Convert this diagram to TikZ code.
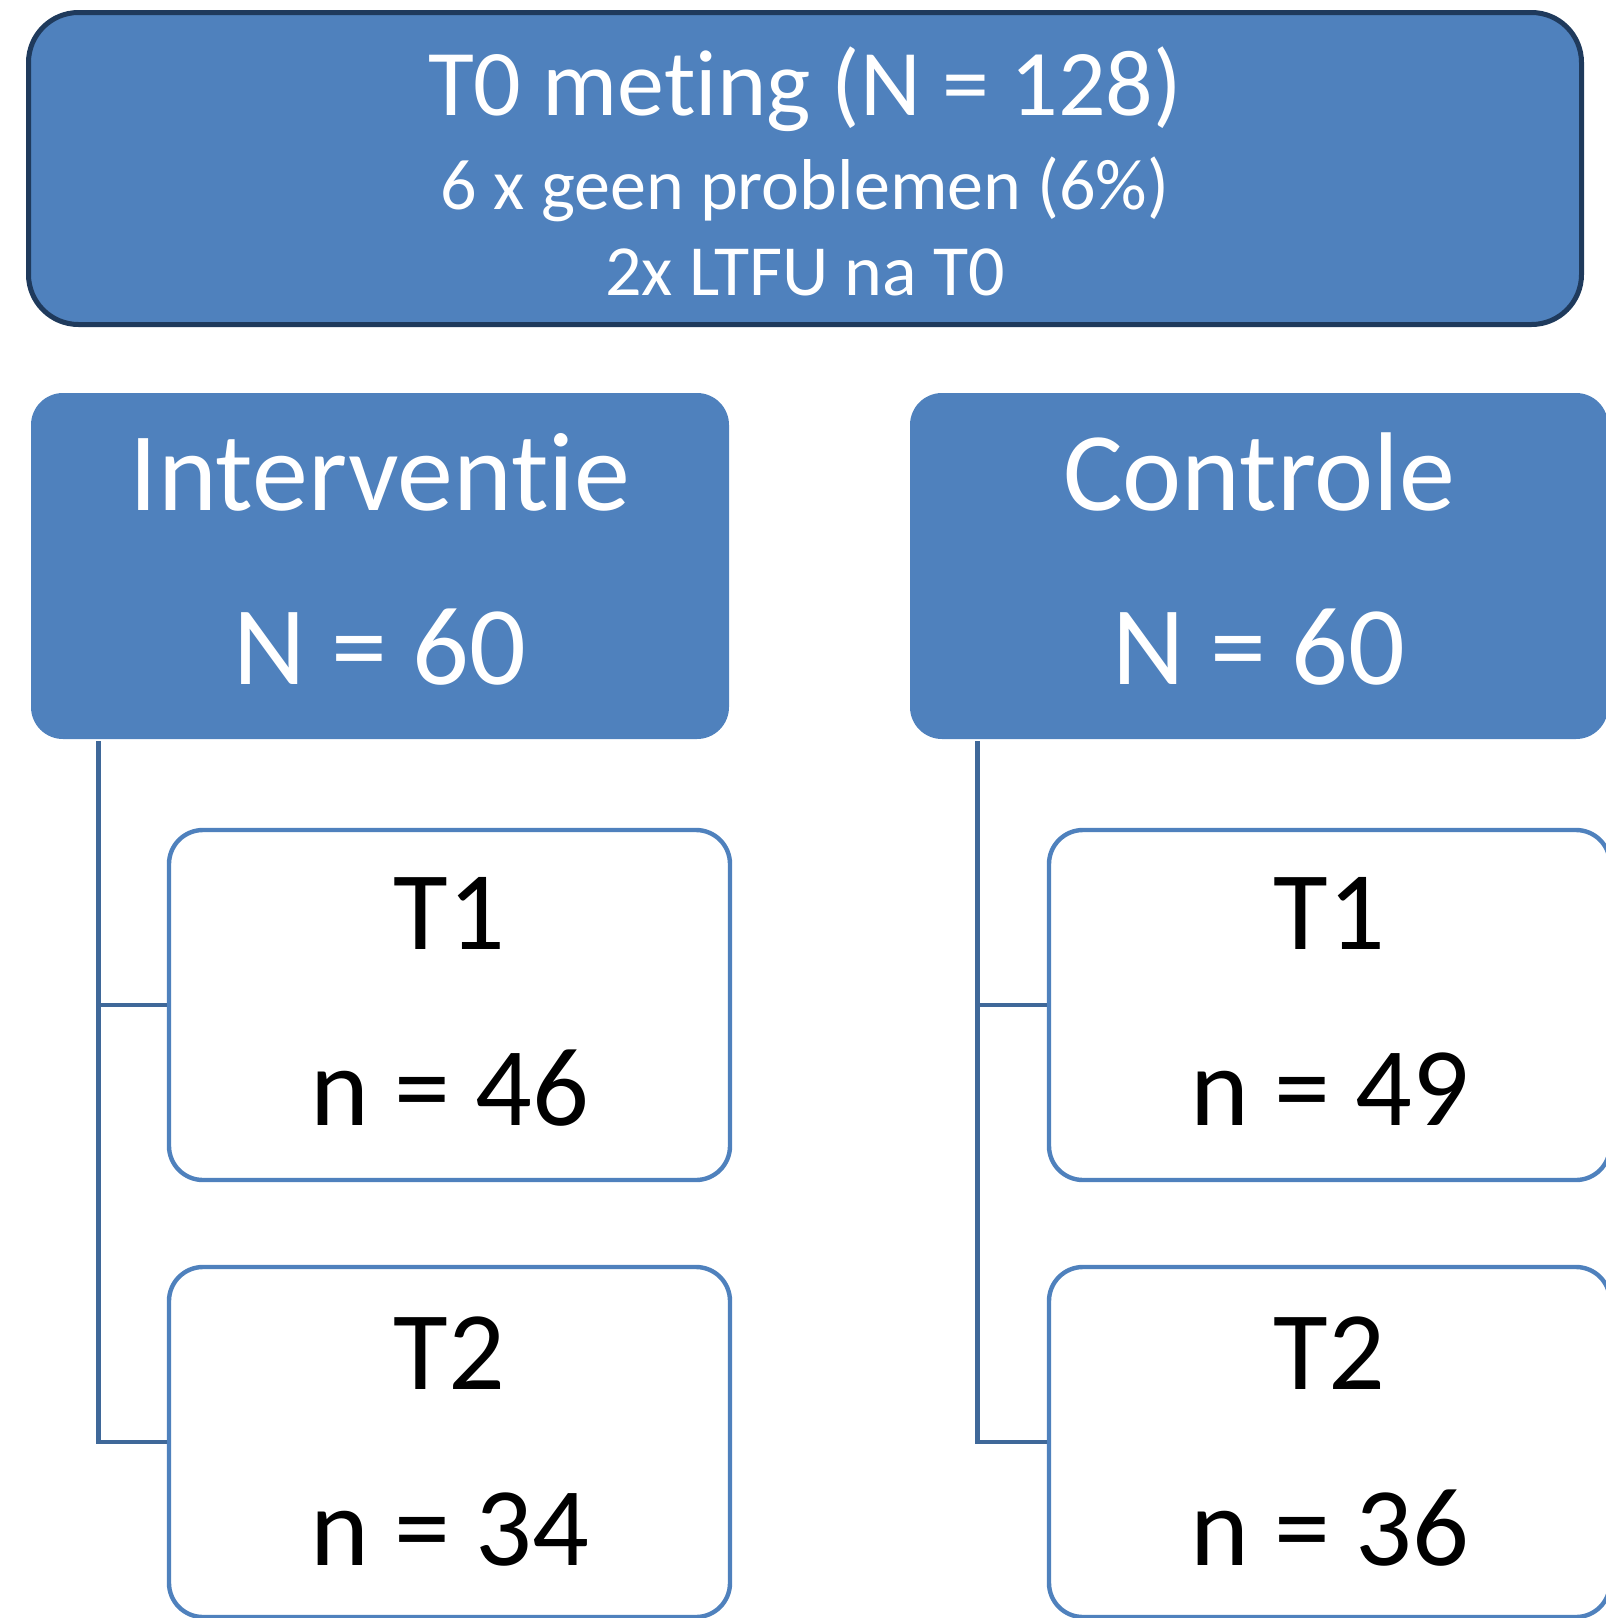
\documentclass[tikz,border=0pt]{standalone}
\usepackage{fontspec}
\setmainfont{Carlito}[RawFeature={-liga;-clig}]
\definecolor{boxblue}{HTML}{4F81BD}
\definecolor{edgedark}{HTML}{1F3A5C}
\definecolor{linkblue}{HTML}{3F6899}
\tikzset{
  topbox/.style={draw=edgedark, line width=2.5pt, fill=boxblue, rounded corners=25pt, inner sep=0pt},
  groupbox/.style={fill=boxblue, rounded corners=16pt, inner sep=0pt},
  timebox/.style={draw=boxblue, fill=white, line width=2.2pt, rounded corners=17pt, inner sep=0pt, minimum width=280.5pt, minimum height=175pt},
  wtxt/.style={text=white, anchor=base, inner sep=0pt},
  btxt/.style={text=black, anchor=base, inner sep=0pt},
  link/.style={draw=linkblue, line width=2.2pt}
}
\begin{document}
\begin{tikzpicture}[x=0.5pt,y=-0.5pt]
\useasboundingbox (0,0) rectangle (1606,1618);
\clip (0,0) rectangle (1606,1618);
% top box
\node[topbox, minimum width=776.5pt, minimum height=156pt] (top) at (805,168.5) {};
\node[wtxt, font=\fontsize{47pt}{50pt}\selectfont] (topl1) at (805,115.5) {T0 meting (N = 128)};
\node[wtxt, font=\fontsize{36pt}{40pt}\selectfont] (topl2) at (805,209.5) {6 x geen problemen (6\%)};
\node[wtxt, font=\fontsize{36pt}{40pt}\selectfont] (topl3) at (805,295) {2x LTFU na T0};
% group boxes
\node[groupbox, minimum width=349pt, minimum height=173pt] (inter) at (380,566) {};
\node[wtxt, font=\fontsize{56pt}{60pt}\selectfont] (interl1) at (380,510) {Interventie};
\node[wtxt, font=\fontsize{56pt}{60pt}\selectfont] (interl2) at (380,684) {N = 60};
\node[groupbox, minimum width=349pt, minimum height=173pt] (contr) at (1259,566) {};
\node[wtxt, font=\fontsize{56pt}{60pt}\selectfont] (contrl1) at (1259,510) {Controle};
\node[wtxt, font=\fontsize{56pt}{60pt}\selectfont] (contrl2) at (1259,684) {N = 60};
% time boxes
\node[timebox] (t1i) at (449.5,1005) {};
\node[btxt, font=\fontsize{56pt}{60pt}\selectfont] (t1il1) at (449.5,949.5) {T1};
\node[btxt, font=\fontsize{56pt}{60pt}\selectfont] (t1il2) at (449.5,1125) {n = 46};
\node[timebox] (t2i) at (449.5,1442) {};
\node[btxt, font=\fontsize{56pt}{60pt}\selectfont] (t2il1) at (449.5,1389) {T2};
\node[btxt, font=\fontsize{56pt}{60pt}\selectfont] (t2il2) at (449.5,1565) {n = 34};
\node[timebox] (t1c) at (1329.5,1005) {};
\node[btxt, font=\fontsize{56pt}{60pt}\selectfont] (t1cl1) at (1329.5,949.5) {T1};
\node[btxt, font=\fontsize{56pt}{60pt}\selectfont] (t1cl2) at (1329.5,1125) {n = 49};
\node[timebox] (t2c) at (1329.5,1442) {};
\node[btxt, font=\fontsize{56pt}{60pt}\selectfont] (t2cl1) at (1329.5,1389) {T2};
\node[btxt, font=\fontsize{56pt}{60pt}\selectfont] (t2cl2) at (1329.5,1565) {n = 36};
% connectors
\coordinate (li) at (98.5,741);
\coordinate (lc) at (977.5,741);
\draw[link] (li) |- (t1i.west);
\draw[link] (li) |- (t2i.west);
\draw[link] (lc) |- (t1c.west);
\draw[link] (lc) |- (t2c.west);
\end{tikzpicture}
\end{document}
